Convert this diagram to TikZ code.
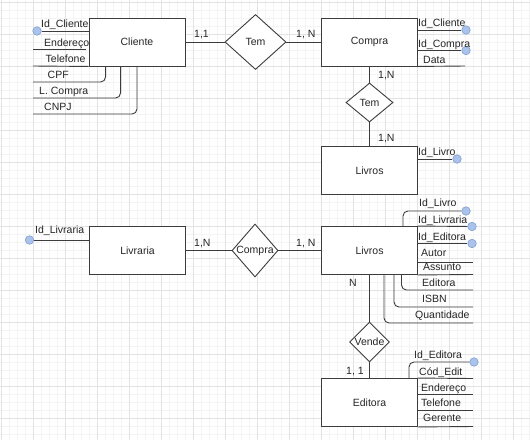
\documentclass[tikz,border=0pt]{standalone}
\usepackage{fontspec}
\setmainfont{Liberation Sans}
\usetikzlibrary{positioning,shapes.geometric}
\definecolor{linha}{HTML}{3C3C3C}
\definecolor{texto}{HTML}{262626}
\definecolor{chave}{HTML}{AAC3EC}
\definecolor{chaveborda}{HTML}{7E9FD6}
\definecolor{gradefina}{HTML}{F4F4F4}
\definecolor{gradeforte}{HTML}{E3E3E3}

\begin{document}
\begin{tikzpicture}[x=1pt,y=-1pt,
    entidade/.style={draw=linha,fill=white,line width=0.9pt,minimum width=96pt,minimum height=48pt,font=\fontsize{10.5}{12}\selectfont,text=texto},
    relac/.style={draw=linha,fill=white,diamond,inner sep=0pt,line width=0.9pt},
    nome/.style={font=\fontsize{10.5}{12}\selectfont,text=texto,inner sep=0pt},
    rot/.style={font=\fontsize{10.5}{12}\selectfont,text=texto,inner sep=0pt,anchor=base west},
    lig/.style={draw=linha,line width=0.9pt},
    chv/.style={circle,draw=chaveborda,fill=chave,line width=0.6pt,minimum size=8.5pt,inner sep=0pt}]
    \useasboundingbox (0,0) rectangle (530,440);
    \fill[white] (0,0) rectangle (530,440);
    % grade
    \foreach \g in {1,9,...,529} \draw[gradefina,line width=0.8pt] (\g,0) -- (\g,440);
    \foreach \g in {2,10,...,434} \draw[gradefina,line width=0.8pt] (0,\g) -- (530,\g);
    \foreach \g in {1,33,...,513} \draw[gradeforte,line width=0.8pt] (\g,0) -- (\g,440);
    \foreach \g in {2,34,...,418} \draw[gradeforte,line width=0.8pt] (0,\g) -- (530,\g);

    % entidades
    \node[entidade] (cliente) at (137,42) {Cliente};
    \node[entidade] (compra) at (369.5,42) {Compra};
    \node[entidade] (livros1) at (369.5,170.5) {Livros};
    \node[entidade] (livraria) at (137.5,250.5) {Livraria};
    \node[entidade] (livros2) at (369.5,250.5) {Livros};
    \node[entidade] (editora) at (369.5,402.5) {Editora};

    % relacionamentos
    \node[relac,minimum width=61pt,minimum height=55pt,label={[nome]center:Tem}] (tem1) at (255.5,42) {};
    \node[relac,minimum width=47pt,minimum height=39pt,label={[nome]center:Tem}] (tem2) at (369.5,102.5) {};
    \node[relac,minimum width=46pt,minimum height=53pt,label={[nome]center:Compra}] (comprar) at (255,250.5) {};
    \node[relac,minimum width=40pt,minimum height=40pt,label={[nome]center:Vende}] (vende) at (369.5,342) {};

    \draw[lig] (cliente) -- (tem1) -- (compra);
    \draw[lig] (compra) -- (tem2) -- (livros1);
    \draw[lig] (livraria) -- (comprar) -- (livros2);
    \draw[lig] (livros2) -- (vende) -- (editora);

    % cardinalidades
    \node[rot] (card1) at (194,37) {1,1};
    \node[rot] (card2) at (296,37) {1, N};
    \node[rot] (card3) at (378,78) {1,N};
    \node[rot] (card4) at (378,141.5) {1,N};
    \node[rot] (card5) at (194,246) {1,N};
    \node[rot] (card6) at (296,246) {1, N};
    \node[rot] (card7) at (349,286) {N};
    \node[rot] (card8) at (346,374) {1, 1};

    % atributos de Cliente
    \node[chv] (kcli) at (37,31) {};
    \coordinate (aend) at (33,49);
    \coordinate (atel) at (33,66);
    \coordinate (acpf) at (33,82);
    \coordinate (alcp) at (33,98);
    \coordinate (acnpj) at (33,114);
    \draw[lig] (kcli) -- (kcli -| cliente.west);
    \draw[lig] (aend) -- ++(53,0);
    \draw[lig] (atel) -- (cliente.south west);
    \draw[lig,rounded corners=5pt] (acpf) -| ([xshift=17pt]cliente.south west);
    \draw[lig,rounded corners=5pt] (alcp) -| ([xshift=32pt]cliente.south west);
    \draw[lig,rounded corners=5pt] (acnpj) -| (cliente.south);
    \node[rot] (tidcli) at (41,27) {Id\_Cliente};
    \node[rot] (tend) at (44,46) {Endereço};
    \node[rot] (ttel) at (45.5,62) {Telefone};
    \node[rot] (tcpf) at (47.5,78) {CPF};
    \node[rot] (tlcp) at (39,94) {L. Compra};
    \node[rot] (tcnpj) at (44,110) {CNPJ};

    % atributos de Compra
    \node[chv] (kcc) at (466,30) {};
    \node[chv] (kcp) at (466,50.5) {};
    \coordinate (adata) at (465,66);
    \draw[lig] (compra.east |- kcc) -- (kcc);
    \draw[lig] (compra.east |- kcp) -- (kcp);
    \draw[lig] (compra.south east) -- (adata);
    \node[rot] (tidcc) at (418,26) {Id\_Cliente};
    \node[rot] (tidcp) at (418,47.5) {Id\_Compra};
    \node[rot] (tdata) at (423,63) {Data};

    % atributos de Livros (compra)
    \node[chv] (kliv) at (457,159) {};
    \draw[lig] (livros1.east |- kliv) -- (kliv);
    \node[rot] (tidliv) at (418,155) {Id\_Livro};

    % atributos de Livraria
    \node[chv] (klvr) at (29.5,240) {};
    \draw[lig] (klvr) -- (klvr -| livraria.west);
    \node[rot] (tidlvr) at (35,233) {Id\_Livraria};

    % atributos de Livros (livraria)
    \node[chv] (kl2liv) at (466,211) {};
    \node[chv] (kl2lvr) at (472,226.5) {};
    \node[chv] (kl2ed) at (472,243.5) {};
    \coordinate (aaut) at (473,262);
    \coordinate (aass) at (473,274.5);
    \coordinate (aedt) at (473,290);
    \coordinate (aisbn) at (473,307);
    \coordinate (aqtd) at (473,323);
    \draw[lig,rounded corners=5pt] ([xshift=-15pt]livros2.north east) |- (kl2liv);
    \draw[lig] (livros2.north east) -- (kl2lvr);
    \draw[lig] (livros2.east |- kl2ed) -- (kl2ed);
    \draw[lig] (livros2.east |- aaut) -- (aaut);
    \draw[lig] (livros2.south east) -- (aass);
    \draw[lig,rounded corners=5pt] ([xshift=32pt]livros2.south) |- (aedt);
    \draw[lig,rounded corners=5pt] ([xshift=24.5pt]livros2.south) |- (aisbn);
    \draw[lig,rounded corners=5pt] ([xshift=14.5pt]livros2.south) |- (aqtd);
    \node[rot] (tl2liv) at (419,206) {Id\_Livro};
    \node[rot] (tl2lvr) at (418,223) {Id\_Livraria};
    \node[rot] (tl2ed) at (418,240) {Id\_Editora};
    \node[rot] (taut) at (421,256) {Autor};
    \node[rot] (tass) at (423,270) {Assunto};
    \node[rot] (tedt) at (422,286) {Editora};
    \node[rot] (tisbn) at (422,302) {ISBN};
    \node[rot] (tqtd) at (415,318) {Quantidade};

    % atributos de Editora
    \node[chv] (ked) at (474,362) {};
    \coordinate (acod) at (473,378.5);
    \coordinate (aend2) at (473,394);
    \coordinate (atel2) at (473,410);
    \coordinate (ager) at (473,426.5);
    \draw[lig,rounded corners=5pt] ([xshift=-9pt]editora.north east) |- (ked);
    \draw[lig] (editora.north east) -- (acod);
    \draw[lig] (editora.east |- aend2) -- (aend2);
    \draw[lig] (editora.east |- atel2) -- (atel2);
    \draw[lig] (editora.south east) -- (ager);
    \node[rot] (tided) at (414,358) {Id\_Editora};
    \node[rot] (tcod) at (419,375) {Cód\_Edit};
    \node[rot] (tend2) at (421,391) {Endereço};
    \node[rot] (ttel2) at (421,406) {Telefone};
    \node[rot] (tger) at (423,421) {Gerente};
  \end{tikzpicture}
\end{document}
